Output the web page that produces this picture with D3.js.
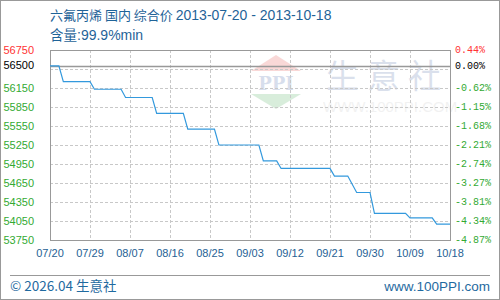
<!DOCTYPE html>
<meta charset="utf-8">
<style>
    body { margin: 0; background: #fff; }
    svg text { font-family: "Liberation Sans", Arial, sans-serif; }
    .grid line { stroke: #c8c8c8; stroke-dasharray: 3,2; shape-rendering: crispEdges; }
    .frame { fill: none; stroke: #999; shape-rendering: crispEdges; }
    .price { fill: none; stroke: #3399dd; stroke-width: 1.2; }
    .cjk { font-family: "Noto Sans CJK SC", sans-serif; }
</style>
<svg width="500" height="300"></svg>
<script src="https://cdn.jsdelivr.net/npm/d3@7/dist/d3.min.js"></script>
<script>

    // price polyline vertices (date, yuan/ton)
    var dates = ["2013-07-20", "2013-07-22", "2013-07-23", "2013-07-29", "2013-07-30", "2013-08-05",
        "2013-08-06", "2013-08-12", "2013-08-13", "2013-08-19", "2013-08-20", "2013-08-26",
        "2013-08-27", "2013-09-05", "2013-09-06", "2013-09-09", "2013-09-10", "2013-09-21",
        "2013-09-22", "2013-09-25", "2013-09-27", "2013-09-30", "2013-10-01", "2013-10-08",
        "2013-10-09", "2013-10-14", "2013-10-15", "2013-10-18"];
    var prices = [56500, 56500, 56250, 56250, 56130, 56130,
        56000, 56000, 55750, 55750, 55500, 55500,
        55250, 55250, 55000, 55000, 54880, 54880,
        54760, 54760, 54500, 54500, 54170, 54170,
        54100, 54100, 54000, 54000];

    var xTicks = ["2013-07-20", "2013-07-29", "2013-08-07", "2013-08-16", "2013-08-25", "2013-09-03",
        "2013-09-12", "2013-09-21", "2013-09-30", "2013-10-09", "2013-10-18"];
    var gridValues = [53750, 54050, 54350, 54650, 54950, 55250, 55550, 55850, 56150, 56450, 56750];
    var leftLabels = [56750, 56500, 56150, 55850, 55550, 55250, 54950, 54650, 54350, 54050, 53750];
    var basePrice = 56500;

    var titleCn = "六氟丙烯 国内 综合价 ";
    var titleDates = "2013-07-20 - 2013-10-18";
    var subCn = "含量";
    var subRest = ":99.9%min";

    var svg = d3.select("svg"),
        margin = { top: 50, right: 50, bottom: 60, left: 50 },
        width = 500 - margin.left - margin.right,
        height = 300 - margin.top - margin.bottom;

    var parse = d3.utcParse("%Y-%m-%d");
    var data = dates.map(function (d, i) { return { date: parse(d), price: prices[i] }; });

    var x = d3.scaleUtc()
        .domain([parse(xTicks[0]), parse(xTicks[xTicks.length - 1])])
        .range([0, width]);
    var y = d3.scaleLinear()
        .domain([53750, 56750])
        .range([height, 0]);

    // outer border
    svg.append("rect").attr("class", "frame")
        .attr("x", 0.5).attr("y", 0.5).attr("width", 499).attr("height", 299);

    var t1 = svg.append("text").attr("x", 50).attr("y", 20).attr("fill", "#1f6398");
    t1.append("tspan").attr("class", "cjk").attr("font-size", "13px").text(titleCn);
    t1.append("tspan").attr("font-size", "14px").text(titleDates);
    var t2 = svg.append("text").attr("x", 50).attr("y", 40).attr("fill", "#1f6398");
    t2.append("tspan").attr("class", "cjk").attr("font-size", "13.5px").text(subCn);
    t2.append("tspan").attr("font-size", "14px").text(subRest);

    var g = svg.append("g")
        .attr("transform", "translate(" + margin.left + "," + margin.top + ")");

    // watermark
    var wm = g.append("g").attr("opacity", 0.18);
    wm.append("path").attr("d", "M226,5 L251,21 L201,21 Z").attr("fill", "#e0302a");
    wm.append("text").attr("x", 226).attr("y", 40).attr("text-anchor", "middle")
        .attr("font-size", "18px").attr("font-weight", "bold").attr("fill", "#2a4f9a")
        .style("font-family", "'DejaVu Serif', serif").text("PPI");
    wm.append("path").attr("d", "M201,44 L251,44 L226,59 Z").attr("fill", "#30a040");
    wm.append("text").attr("x", 276).attr("y", 38)
        .attr("font-size", "33px").attr("fill", "#3a5a9a").attr("letter-spacing", "8px")
        .attr("class", "cjk").text("生意社");
    wm.append("text").attr("x", 273).attr("y", 62)
        .attr("font-size", "15px").attr("fill", "#888").attr("opacity", 0.6)
        .text("WWW.100PPI.COM");

    // grid
    g.append("g").attr("class", "grid")
        .selectAll("line").data(gridValues.slice(1, -1)).enter().append("line")
        .attr("x1", 0).attr("x2", width)
        .attr("y1", function (d) { return Math.round(y(d)) + 0.5; })
        .attr("y2", function (d) { return Math.round(y(d)) + 0.5; });
    g.append("g").attr("class", "grid")
        .selectAll("line").data(xTicks.slice(1, -1)).enter().append("line")
        .attr("y1", 0).attr("y2", height)
        .attr("x1", function (d) { return Math.round(x(parse(d))) + 0.5; })
        .attr("x2", function (d) { return Math.round(x(parse(d))) + 0.5; });

    // base line
    g.append("line")
        .attr("x1", 0).attr("x2", width)
        .attr("y1", Math.round(y(basePrice)) + 0.5).attr("y2", Math.round(y(basePrice)) + 0.5)
        .attr("stroke", "#999").attr("stroke-width", 1.5);

    g.append("rect").attr("class", "frame")
        .attr("x", 0.5).attr("y", 0.5).attr("width", width).attr("height", height);

    var line = d3.line()
        .x(function (d) { return x(d.date); })
        .y(function (d) { return y(d.price); });
    g.append("path").datum(data).attr("class", "price").attr("d", line);

    function colorFor(v) {
        if (v > basePrice) return "#ff3333";
        if (v === basePrice) return "#000";
        return "#33aa33";
    }

    // left axis labels
    g.selectAll(".ylab").data(leftLabels).enter().append("text")
        .attr("class", "ylab")
        .attr("x", -16).attr("y", function (d) { return y(d); }).attr("dy", "0.33em")
        .attr("text-anchor", "end").attr("font-size", "11px")
        .attr("fill", colorFor)
        .text(function (d) { return d; });

    // right axis percentages
    g.selectAll(".pct").data(leftLabels).enter().append("text")
        .attr("class", "pct")
        .attr("x", width + 5).attr("y", function (d) { return y(d); }).attr("dy", "0.33em")
        .attr("font-size", "10px").attr("fill", colorFor)
        .style("font-family", "'Liberation Mono', monospace")
        .text(function (d) {
            var p = (d - basePrice) / basePrice * 100;
            return p.toFixed(2) + "%";
        });

    // x labels
    g.selectAll(".xlab").data(xTicks).enter().append("text")
        .attr("class", "xlab")
        .attr("x", function (d) { return x(parse(d)); }).attr("y", height + 17)
        .attr("text-anchor", "middle").attr("font-size", "11px").attr("fill", "#1f5f94")
        .text(function (d) { return d3.utcFormat("%m/%d")(parse(d)); });

    // footer
    svg.append("line").attr("x1", 10).attr("x2", 490).attr("y1", 275.5).attr("y2", 275.5)
        .attr("stroke", "#999");
    svg.append("text").attr("x", 10).attr("y", 291)
        .attr("font-size", "13.5px").attr("fill", "#1f6aa0")
        .attr("class", "cjk")
        .text("© 2026.04 生意社");
    svg.append("text").attr("x", 490).attr("y", 291).attr("text-anchor", "end")
        .attr("font-size", "13.5px").attr("fill", "#1f6aa0")
        .text("www.100PPI.com");

</script>
